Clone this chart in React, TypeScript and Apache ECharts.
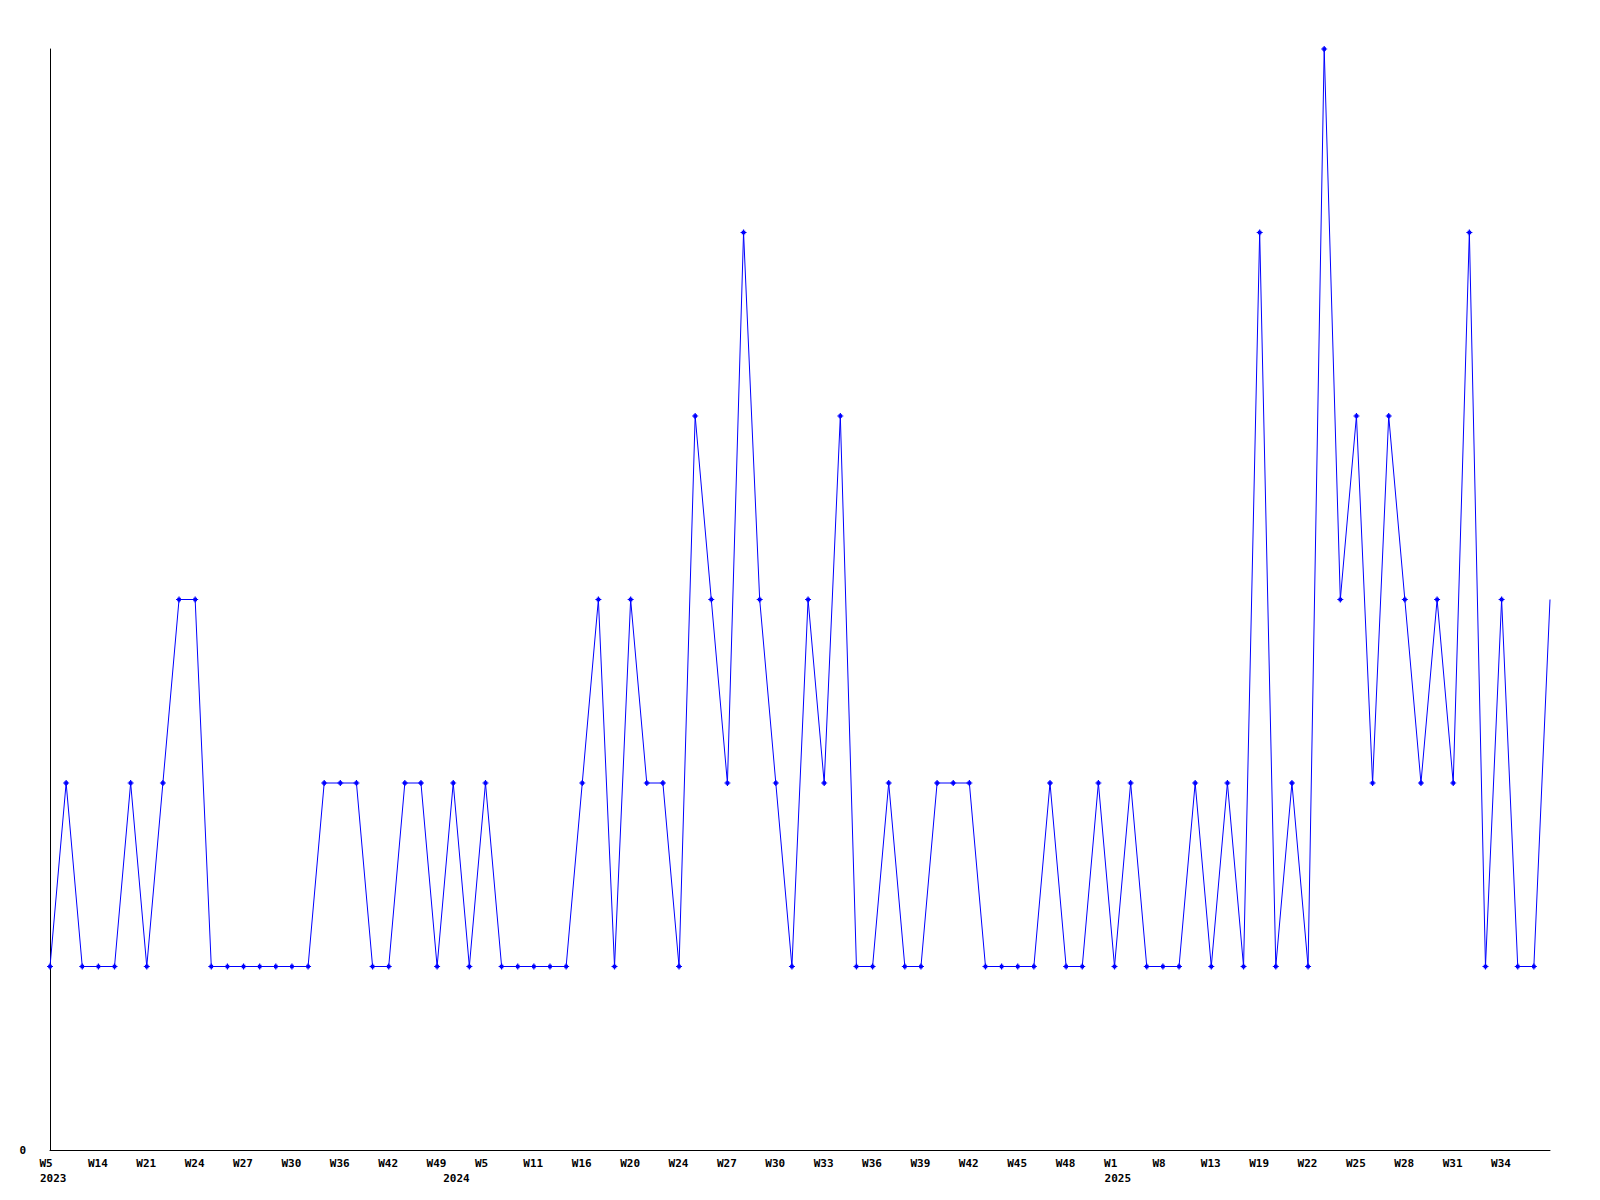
import React, { useEffect, useRef } from "react";
import * as echarts from "echarts";

// ISO week of each data point (category axis)
const weeks: number[] = [
  5, 7, 10, 14, 16, 19, 21, 22, 23, 24, 25, 26, 27, 28, 29, 30, 32, 34, 36, 38, 40, 42, 44, 47, 49,
  1, 3, 5, 7, 9, 11, 13, 14, 16, 17, 18, 20, 21, 22, 24, 25, 26, 27, 28, 29, 30, 31, 32, 33, 34,
  35, 36, 37, 38, 39, 40, 41, 42, 43, 44, 45, 46, 47, 48, 50, 52,
  1, 3, 5, 8, 10, 12, 13, 15, 17, 19, 20, 21, 22, 23, 24, 25, 26, 27, 28, 29, 30, 31, 32, 33, 34,
  35, 36, 37,
];
const years: number[] = [
  ...Array(25).fill(2023),
  ...Array(41).fill(2024),
  ...Array(28).fill(2025),
];
const values: number[] = [
  1, 2, 1, 1, 1, 2, 1, 2, 3, 3, 1, 1, 1, 1, 1, 1, 1, 2, 2, 2, 1, 1, 2, 2, 1,
  2, 1, 2, 1, 1, 1, 1, 1, 2, 3, 1, 3, 2, 2, 1, 4, 3, 2, 5, 3, 2, 1, 3, 2, 4,
  1, 1, 2, 1, 1, 2, 2, 2, 1, 1, 1, 1, 2, 1, 1, 2, 1, 2, 1, 1, 1, 2, 1, 2, 1,
  5, 1, 2, 1, 6, 3, 4, 2, 4, 3, 2, 3, 2, 5, 1, 3, 1, 1, 3,
];
const yMin = 0;
const yMax = 6;

const categories = weeks.map((w, i) => `${years[i]}-W${w}`);
const yearStarts = years.map((y, i) => i === 0 || years[i - 1] !== y);

const FONT = "DejaVu Sans Mono";
const labelStyle = { fontFamily: FONT, fontWeight: "bold", fontSize: 11, color: "#000" };

export default function App() {
  const ref = useRef<HTMLDivElement>(null);
  useEffect(() => {
    if (!ref.current) return;
    const chart = echarts.init(ref.current, null, { renderer: "svg" });
    const last = values.length - 1;
    chart.setOption({
      animation: false,
      backgroundColor: "#ffffff",
      grid: { left: 50, top: 49, right: 50, bottom: 50, containLabel: false },
      xAxis: [
        {
          type: "category",
          data: categories,
          boundaryGap: false,
          axisLine: { show: true, lineStyle: { color: "#000", width: 1 } },
          axisTick: { show: false },
          splitLine: { show: false },
          axisLabel: {
            interval: (idx: number) => idx % 3 === 0 && idx < last,
            formatter: (_v: string, idx: number) => `{w|W${weeks[idx]}}`,
            margin: 8,
            ...labelStyle,
            rich: { w: { ...labelStyle, width: 21, align: "left" } },
          },
        },
        {
          type: "category",
          data: categories,
          boundaryGap: false,
          position: "bottom",
          axisLine: { show: false },
          axisTick: { show: false },
          splitLine: { show: false },
          axisLabel: {
            interval: (idx: number) => yearStarts[idx],
            formatter: (_v: string, idx: number) => `${years[idx]}`,
            margin: 23,
            padding: [0, 0, 0, 6.5],
            ...labelStyle,
          },
        },
      ],
      yAxis: {
        type: "value",
        min: yMin,
        max: yMax,
        interval: 6,
        axisLine: { show: true, lineStyle: { color: "#000", width: 1 } },
        axisTick: { show: false },
        splitLine: { show: false },
        axisLabel: {
          formatter: (v: number) => (v === 0 ? "0" : ""),
          margin: 24,
          ...labelStyle,
        },
      },
      series: [
        {
          type: "line",
          xAxisIndex: 0,
          data: values.map((v, i) => (i === last ? { value: v, symbol: "none" } : v)),
          symbol: "path://M1,1H4V4H1Z M2,0H3V5H2Z M0,2H5V3H0Z",
          symbolSize: 6,
          showAllSymbol: true,
          lineStyle: { color: "#0000ff", width: 1 },
          itemStyle: { color: "#0000ff", borderWidth: 0 },
        },
      ],
    });
    return () => chart.dispose();
  }, []);
  return (
    <div
      ref={ref}
      style={{ position: "absolute", left: 0, top: 0, width: 1600, height: 1200 }}
    />
  );
}
